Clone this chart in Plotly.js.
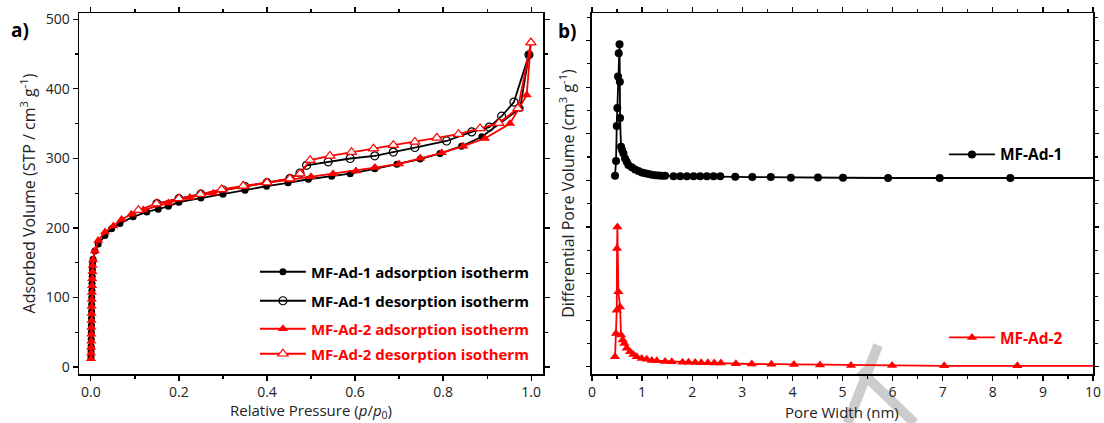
<!DOCTYPE html>
<html>
<head>
<meta charset="utf-8">
<script src="https://cdn.plot.ly/plotly-3.0.1.min.js"></script>
<style>html,body{margin:0;padding:0;background:#fff;}#chart{width:1104px;height:423px;}</style>
</head>
<body>
<div id="chart"></div>
<script>
// ---------- Panel a) N2 isotherms ----------
const ad1AdsX = [0.0002,0.0004,0.0006,0.0008,0.001,0.0012,0.0014,0.0016,0.0018,0.002,0.0023,0.0026,0.003,0.0035,0.004,0.005,0.009,0.0167,0.032,0.047,0.066,0.096,0.127,0.153,0.176,0.20,0.25,0.30,0.35,0.399,0.448,0.494,0.547,0.589,0.645,0.695,0.748,0.793,0.842,0.888,0.975,0.995];
const ad1AdsY = [14,22,30,40,50,60,70,80,90,100,110,120,130,140,148,155,167,177,189,199,206.5,216,223,227,231,237,243,248.6,254,260,264.8,270,274.4,278,285,291.7,299,307,317.5,331,372,449];
const ad1DesX = [0.995,0.961,0.933,0.905,0.865,0.808,0.736,0.687,0.645,0.589,0.539,0.49,0.475,0.452,0.40,0.35,0.30,0.25,0.20,0.15];
const ad1DesY = [449,381,360.6,345,338,325,315.6,309,303.6,299.8,295,290,279,271,265,259.5,254.5,248.5,242,235];
const ad2AdsX = [0.0002,0.0004,0.0006,0.0008,0.001,0.0012,0.0014,0.0016,0.0018,0.002,0.0023,0.0026,0.003,0.0035,0.004,0.005,0.009,0.0167,0.032,0.051,0.0697,0.092,0.119,0.176,0.225,0.278,0.297,0.346,0.396,0.45,0.50,0.55,0.602,0.645,0.70,0.748,0.797,0.846,0.895,0.952,0.99,0.9995];
const ad2AdsY = [12,20,28,37,47,57,67,77,87,97,107,117,127,137,146,154,167,182,194,202.6,212,219.8,225.6,236,243.8,250,254,259,264.8,269,273.5,278,282,286.7,292,300,308,317.5,328.6,350,391,466.5];
const ad2DesX = [0.9995,0.97,0.927,0.884,0.835,0.786,0.736,0.687,0.642,0.592,0.543,0.498,0.475,0.452,0.40,0.346,0.297,0.249,0.20,0.149,0.108];
const ad2DesY = [466.5,372,350.6,343,334.8,329.5,323.7,319,314,309,303.6,297.4,278,271,265,260.5,255.3,248.6,242.4,235,225.6];

// ---------- Panel b) pore size distribution (arbitrary offset units) ----------
const psd1X = [0.46,0.48,0.494,0.506,0.52,0.534,0.55,0.556,0.56,0.58,0.60,0.627,0.66,0.693,0.727,0.793,0.86,0.927,0.993,1.06,1.127,1.193,1.26,1.327,1.393,1.46,1.627,1.76,1.893,2.027,2.16,2.293,2.427,2.56,2.86,3.2,3.57,3.97,4.51,5.01,5.91,6.94,8.35,10.6,12.3];
const psd1Y = [0.82,0.883,1.033,1.11,1.245,1.345,1.384,1.223,1.067,0.944,0.93,0.916,0.894,0.88,0.866,0.856,0.847,0.84,0.834,0.83,0.827,0.824,0.822,0.821,0.82,0.82,0.818,0.818,0.818,0.818,0.818,0.818,0.817,0.817,0.815,0.814,0.814,0.811,0.812,0.811,0.81,0.81,0.81,0.81,0.81];
const psd2X = [0.46,0.48,0.494,0.50,0.507,0.527,0.56,0.58,0.613,0.647,0.693,0.76,0.827,0.893,0.993,1.093,1.193,1.293,1.46,1.593,1.807,1.927,2.06,2.18,2.313,2.44,2.573,2.873,3.19,3.58,4.03,4.55,5.17,5.99,7.03,8.49,10.6,12.3];
const psd2Y = [0.043,0.143,0.243,0.508,0.60,0.322,0.257,0.136,0.115,0.10,0.079,0.064,0.053,0.043,0.036,0.032,0.027,0.026,0.023,0.022,0.019,0.019,0.018,0.017,0.017,0.016,0.016,0.013,0.012,0.011,0.01,0.008,0.006,0.005,0.004,0.004,0.004,0.004];

const FONT = 'Open Sans, sans-serif';
const RED = '#ff0000';
const LW = 1.8;

const traces = [
  {x: ad1AdsX, y: ad1AdsY, xaxis:'x', yaxis:'y', mode:'lines+markers', legend:'legend',
   name:'<b>MF-Ad-1 adsorption isotherm</b>',
   line:{color:'#000', width:LW}, marker:{symbol:'circle', size:7, color:'#000'}},
  {x: ad1DesX, y: ad1DesY, xaxis:'x', yaxis:'y', mode:'lines+markers', legend:'legend4',
   name:'<b>MF-Ad-1 desorption isotherm</b>',
   line:{color:'#000', width:LW}, marker:{symbol:'circle-open', size:8, color:'#000', line:{width:1.2}}},
  {x: ad2AdsX, y: ad2AdsY, xaxis:'x', yaxis:'y', mode:'lines+markers', legend:'legend5',
   name:'<span style="color:#ff0000"><b>MF-Ad-2 adsorption isotherm</b></span>',
   line:{color:RED, width:LW}, marker:{symbol:'triangle-up', size:9, color:RED}},
  {x: ad2DesX, y: ad2DesY, xaxis:'x', yaxis:'y', mode:'lines+markers', legend:'legend6',
   name:'<span style="color:#ff0000"><b>MF-Ad-2 desorption isotherm</b></span>',
   line:{color:RED, width:LW}, marker:{symbol:'triangle-up', size:9, color:'#fff', line:{color:RED, width:1.2}}},
  {x: psd1X, y: psd1Y, xaxis:'x2', yaxis:'y2', mode:'lines+markers', legend:'legend2',
   name:'<b>MF-Ad-1</b>',
   line:{color:'#000', width:LW}, marker:{symbol:'circle', size:8, color:'#000'}},
  {x: psd2X, y: psd2Y, xaxis:'x2', yaxis:'y2', mode:'lines+markers', legend:'legend3',
   name:'<span style="color:#ff0000"><b>MF-Ad-2</b></span>',
   line:{color:RED, width:LW}, marker:{symbol:'triangle-up', size:9, color:RED}}
];

const axisCommon = {
  showline:true, linecolor:'#000', linewidth:1.5, mirror:'ticks', ticks:'outside', ticklen:5, tickwidth:1.2,
  tickcolor:'#000', showgrid:false, zeroline:false, tickfont:{family:FONT, size:14, color:'#222'}
};
const TITLEFONT = {family:FONT, size:16, color:'#222'};
const XTITLEFONT = {family:FONT, size:15, color:'#222'};

function leg(xp, yp, fs) {
  return {x:xp, xanchor:'left', y:yp, yanchor:'middle', bgcolor:'rgba(0,0,0,0)',
    font:{family:FONT, size:fs, color:'#000'}, itemwidth:46};
}

const layout = {
  width:1104, height:423,
  margin:{l:79, r:11, t:13, b:49},
  paper_bgcolor:'#fff', plot_bgcolor:'#fff',
  font:{family:FONT, color:'#000'},
  showlegend:true,
  xaxis: Object.assign({}, axisCommon, {
    domain:[0, 0.4576], range:[-0.027, 1.027], tickvals:[0,0.2,0.4,0.6,0.8,1.0], tickformat:'.1f',
    ticklabelstandoff:0,
    minor:{dtick:0.1, tick0:0, ticks:'outside', ticklen:3, tickcolor:'#000'}
  }),
  yaxis: Object.assign({}, axisCommon, {
    domain:[0,1], range:[-10, 509], tickvals:[0,100,200,300,400,500],
    minor:{dtick:50, tick0:0, ticks:'outside', ticklen:3, tickcolor:'#000'},
    title:{text:'Adsorbed Volume (STP / cm<sup>3</sup> g<sup>-1</sup>)', font:TITLEFONT, standoff:6}
  }),
  xaxis2: Object.assign({}, axisCommon, {
    domain:[0.5059, 1], range:[0, 10], dtick:1, anchor:'y2', ticklabelstandoff:0,
    minor:{dtick:0.5, tick0:0, ticks:'outside', ticklen:3, tickcolor:'#000'}
  }),
  yaxis2: Object.assign({}, axisCommon, {
    domain:[0,1], range:[-0.031, 1.518], dtick:0.2, tick0:0, anchor:'x2', showticklabels:false, ticklen:4,
    minor:{dtick:0.1, tick0:0, ticks:'outside', ticklen:3, tickcolor:'#000'},
    title:{text:'Differential Pore Volume (cm<sup>3</sup> g<sup>-1</sup>)', font:TITLEFONT, standoff:8}
  }),
  legend:  leg(0.1735, 0.2825, 15),
  legend4: leg(0.1735, 0.2022, 15),
  legend5: leg(0.1735, 0.1247, 15),
  legend6: leg(0.1735, 0.0554, 15),
  legend2: leg(0.853, 0.607, 15.5),
  legend3: leg(0.853, 0.1, 15.5),
  annotations:[
    {text:'Relative Pressure (<i>p</i>/<i>p</i><sub>0</sub>)', xref:'x domain', yref:'paper', x:0.5, y:-0.1385,
     xanchor:'center', yanchor:'bottom', showarrow:false, font:XTITLEFONT},
    {text:'Pore Width (nm)', xref:'x2 domain', yref:'paper', x:0.5, y:-0.1385,
     xanchor:'center', yanchor:'bottom', showarrow:false, font:XTITLEFONT},
    {text:'<b>a)</b>', xref:'paper', yref:'paper', x:-0.058, y:0.953, xanchor:'center', yanchor:'middle', showarrow:false, font:{family:FONT, size:19, color:'#000'}},
    {text:'<b>b)</b>', xref:'paper', yref:'paper', x:0.481, y:0.95, xanchor:'center', yanchor:'middle', showarrow:false, font:{family:FONT, size:19, color:'#000'}}
  ],
  shapes:[
    {type:'line', xref:'paper', yref:'paper', x0:0.788, y0:0.080, x1:0.758, y1:-0.136, layer:'below', line:{color:'#cccccc', width:10}},
    {type:'line', xref:'paper', yref:'paper', x0:0.770, y0:0.010, x1:0.824, y1:-0.136, layer:'below', line:{color:'#cccccc', width:10}}
  ]
};

Plotly.newPlot('chart', traces, layout, {displayModeBar:false, staticPlot:true});
</script>
</body>
</html>
